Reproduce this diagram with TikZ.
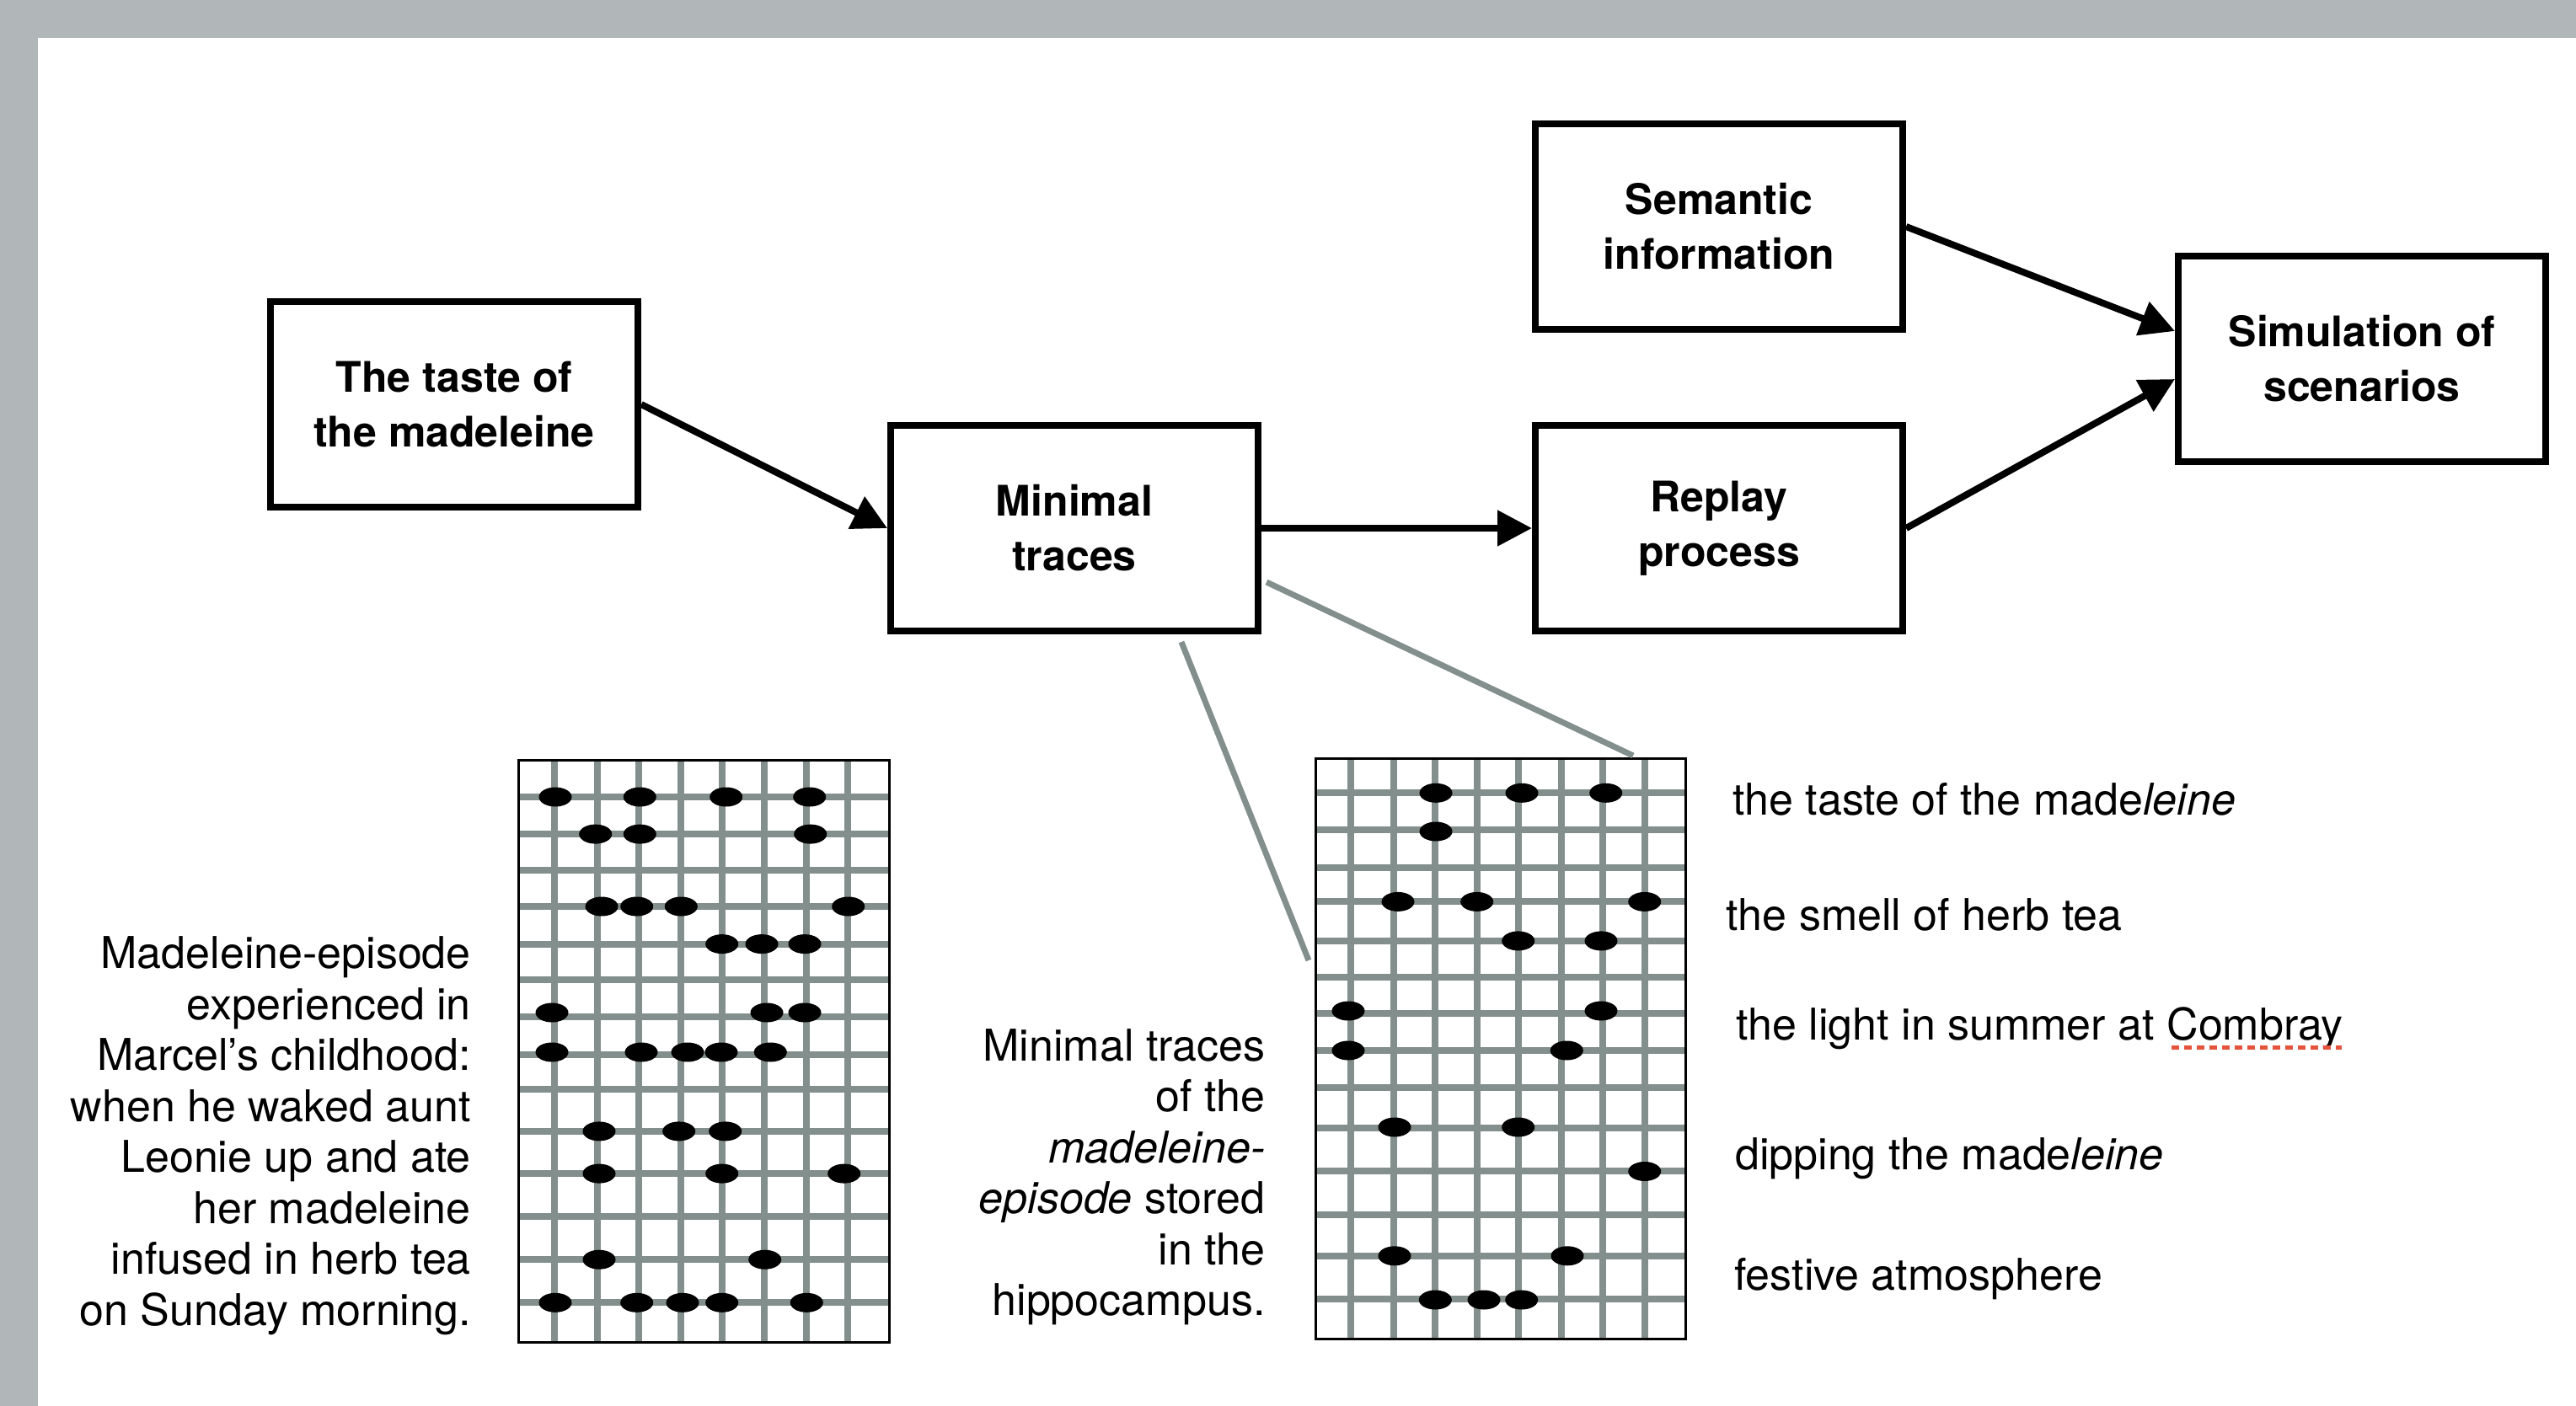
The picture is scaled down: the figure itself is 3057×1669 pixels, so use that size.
\documentclass[tikz,border=0pt]{standalone}
\usepackage{fontspec}
\setmainfont{TeX Gyre Heros}
\usetikzlibrary{arrows.meta,calc}
\definecolor{framegray}{RGB}{177,182,185}
\definecolor{gridgray}{RGB}{131,143,140}
\definecolor{spellred}{RGB}{229,83,61}
\begin{document}
\begin{tikzpicture}[x=1pt,y=-1pt,
  box/.style={draw=black, line width=8pt, minimum width=436pt, minimum height=244pt,
    inner sep=0pt, align=center, font=\fontsize{50}{65}\selectfont\bfseries},
  arr/.style={line width=8pt, -{Triangle[length=41pt,width=41pt]}},
  gridline/.style={draw=gridgray, line width=8pt},
  gridbox/.style={draw=black, line width=3pt, inner sep=0pt},
  zoomline/.style={draw=gridgray, line width=7pt},
  para/.style={align=right, inner sep=0pt, font=\fontsize{52}{60.5}\selectfont},
  lbl/.style={inner sep=0pt, font=\fontsize{52}{60}\selectfont},
  dotmark/.style={fill=black}
]
\useasboundingbox (0,0) rectangle (3057,1669);
\fill[white] (0,0) rectangle (3057,1669);
% frame
\fill[framegray] (0,0) rectangle (3057,45);
\fill[framegray] (0,0) rectangle (45,1669);

% boxes
\node[box] (taste) at (539,480) {The taste of\\the madeleine};
\node[box] (minimal) at (1275,627) {Minimal\\traces};
\node[box] (semantic) at (2040,269) {Semantic\\information};
\node[box] (replay) at (2040,627) {Replay\\process};
\node[box] (sim) at (2803,426) {Simulation of\\scenarios};

% arrows
\draw[arr] (taste.east) -- (minimal.west);
\draw[arr] (minimal.east) -- (replay.west);
\draw[arr] (semantic.east) -- ([yshift=33pt]sim.west);
\draw[arr] (replay.east) -- ([yshift=-24pt]sim.west);

% left grid
\foreach \x in {658.3,709,758,808.3,857.3,906.7,956.7,1006}
  \draw[gridline] (\x,903) -- (\x,1593);
\foreach \y in {946.0,990.1,1033.3,1076.0,1120.6,1163.3,1207.4,1251.5,1293.2,1342.9,1393.1,1444.1,1495.2,1546.3}
  \draw[gridline] (616,\y) -- (1055.5,\y);
\node[gridbox, minimum width=440pt, minimum height=691pt] (lgrid) at (835.7,1248) {};
\foreach \x/\y in {659/946,759.3/946,861.7/946,960.7/946,
  706.7/990.1,759.3/990.1,961.7/990.1,
  714/1076,755.7/1076,808.3/1076,1006.7/1076,
  856.7/1120.6,904/1120.6,955/1120.6,
  655/1202,910/1202,955/1202,
  655/1249,761/1249,816/1249,856/1249,914.3/1249,
  711/1342.9,805.7/1342.9,860.7/1342.9,
  711/1393.1,856.7/1393.1,1001.7/1393.1,
  711/1495.2,907.7/1495.2,
  659/1546.3,755.7/1546.3,810/1546.3,856.7/1546.3,957.3/1546.3}
  \fill[dotmark] (\x,\y) ellipse [x radius=19.5pt, y radius=11.5pt];

% right grid
\foreach \x in {1603.3,1654,1702.7,1753.3,1802.3,1852.7,1901.7,1952.3}
  \draw[gridline] (\x,901) -- (\x,1589);
\foreach \y in {941.3,984.5,1029.6,1070.4,1116.9,1159.6,1202.8,1247.0,1291.1,1338.9,1389.6,1442.0,1490.8,1541.9}
  \draw[gridline] (1561,\y) -- (2000,\y);
\node[gridbox, minimum width=439pt, minimum height=689pt] (rgrid) at (1780.5,1244.7) {};
\foreach \x/\y in {1704/941.3,1806/941.3,1905.7/941.3,
  1704/987,
  1659/1070.4,1752.7/1070.4,1951.7/1070.4,
  1801.7/1116.9,1900/1116.9,
  1600/1200,1900/1200,
  1600/1247,1859.3/1247,
  1655/1338,1801.7/1338,
  1951.7/1390.5,
  1655/1490.8,1860/1490.8,
  1703.3/1543,1761/1543,1805.7/1543}
  \fill[dotmark] (\x,\y) ellipse [x radius=19.5pt, y radius=11.5pt];

% zoom lines from minimal traces box to right grid
\coordinate (zA) at (1503,691);
\coordinate (zAend) at (1938,897);
\coordinate (zB) at (1402,762);
\coordinate (zBend) at (1553,1140);
\draw[zoomline] (zA) -- (zAend);
\draw[zoomline] (zB) -- (zBend);

% paragraphs (base anchor = baseline of last line)
\node[para, anchor=base east] (lpara) at (559,1573) {Madeleine-episode\\experienced in\\Marcel’s childhood:\\when he waked aunt\\Leonie up and ate\\her madeleine\\infused in herb tea\\on Sunday morning.};
\node[para, anchor=base east] (mpara) at (1501.7,1561.7) {Minimal traces\\of the\\\textit{madeleine-}\\\textit{episode} stored\\in the\\hippocampus.};

% right labels
\node[lbl, anchor=base west] (l1) at (2056,967.3) {the taste of the made\textit{leine}};
\node[lbl, anchor=base west] (l2) at (2048.3,1104) {the smell of herb tea};
\node[lbl, anchor=base west] (l3) at (2060,1234.6) {the light in summer at Combray};
\node[lbl, anchor=base west] (l4) at (2059,1388) {dipping the made\textit{leine}};
\node[lbl, anchor=base west] (l5) at (2058,1531) {festive atmosphere};
\coordinate (ulA) at (2576.5,1243);
\coordinate (ulB) at (2779,1243);
\draw[spellred, line width=5pt, dash pattern=on 9pt off 6pt] (ulA) -- (ulB);
\end{tikzpicture}
\end{document}
